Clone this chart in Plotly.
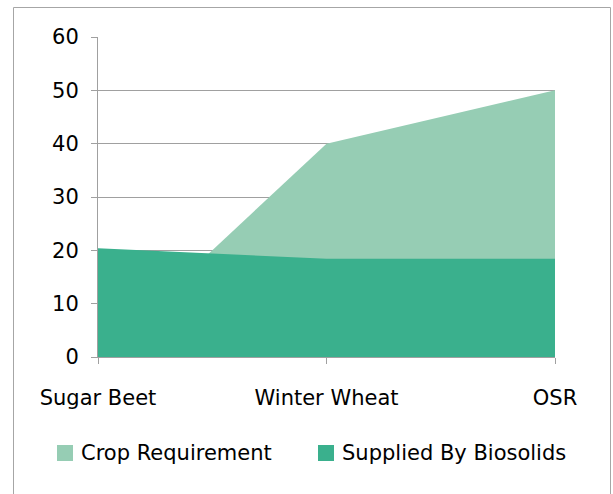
import plotly.graph_objects as go

categories = ["Sugar Beet", "Winter Wheat", "OSR"]
crop_requirement = [0, 40, 50]
supplied_by_biosolids = [20.4, 18.4, 18.4]
y_ticks = [0, 10, 20, 30, 40, 50, 60]
series_names = ["Crop Requirement", "Supplied By Biosolids"]

crop_color = "#96CDB4"
bio_color = "#3AB08D"
grid_color = "#A0A0A0"
font_family = "'DejaVu Sans', sans-serif"

x_idx = list(range(len(categories)))

fig = go.Figure()
fig.add_trace(go.Scatter(x=x_idx, y=crop_requirement, mode="none", fill="tozeroy",
                         fillcolor=crop_color, name=series_names[0], showlegend=False,
                         hoverinfo="skip"))
fig.add_trace(go.Scatter(x=x_idx, y=supplied_by_biosolids, mode="none", fill="tozeroy",
                         fillcolor=bio_color, name=series_names[1], showlegend=False,
                         hoverinfo="skip"))

L, R, T, B = 98, 58, 37, 137
W, H = 613, 494
pw, ph = W - L - R, H - T - B

def px_x(p):
    return (p - L) / pw

def px_y(p):
    return (H - B - p) / ph

# outer chart border
fig.add_shape(type="rect", xref="paper", yref="paper",
              x0=px_x(13.5), x1=px_x(610.5), y0=px_y(500), y1=px_y(7.5),
              line=dict(color="#A6A6A6", width=1), fillcolor="rgba(0,0,0,0)", layer="below")

# custom legend (swatch + text)
legend_items = [(series_names[0], crop_color, 57), (series_names[1], bio_color, 318)]
leg_y = 453
for name, col, sx in legend_items:
    fig.add_shape(type="rect", xref="paper", yref="paper",
                  x0=px_x(sx), x1=px_x(sx + 16), y0=px_y(leg_y + 8), y1=px_y(leg_y - 8),
                  line=dict(width=0), fillcolor=col)
    fig.add_annotation(xref="paper", yref="paper", x=px_x(sx + 22), y=px_y(leg_y),
                       xanchor="left", yanchor="middle", text=name, showarrow=False,
                       font=dict(size=21, family=font_family, color="#000000"))

fig.update_layout(
    width=W, height=H,
    margin=dict(l=L, r=R, t=T, b=B, autoexpand=False),
    paper_bgcolor="white", plot_bgcolor="white",
    font=dict(family=font_family, size=21, color="#000000"),
    showlegend=False,
    xaxis=dict(range=[0, 2], tickmode="array", tickvals=x_idx, ticktext=categories,
               showgrid=False, zeroline=False, showline=True, linecolor=grid_color,
               ticks="outside", ticklen=6, tickcolor=grid_color, ticklabelstandoff=16,
               fixedrange=True),
    yaxis=dict(range=[0, 60], tickmode="array", tickvals=y_ticks,
               showgrid=True, gridcolor=grid_color, zeroline=False,
               showline=True, linecolor=grid_color,
               ticks="outside", ticklen=6, tickcolor=grid_color, ticklabelstandoff=8,
               fixedrange=True),
)

fig.write_html("out.html", config={"displayModeBar": False},
               post_script="document.body.style.margin='0';document.body.style.overflow='hidden';")
